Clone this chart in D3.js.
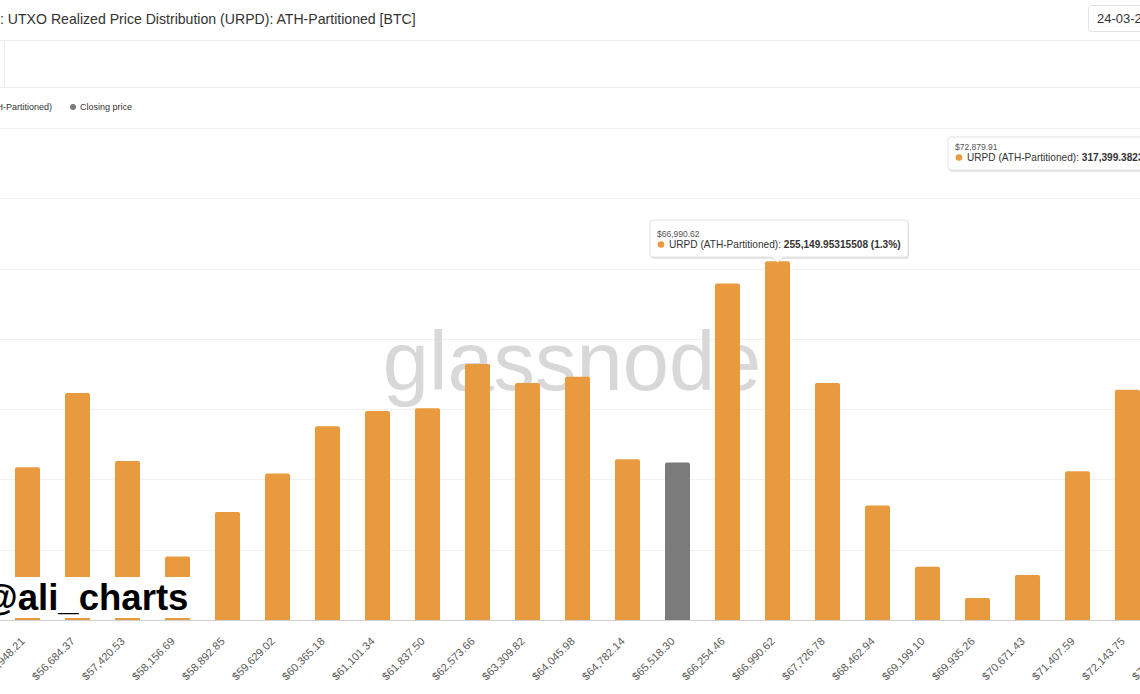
<!DOCTYPE html>
<html><head><meta charset="utf-8">
<script src="https://cdn.jsdelivr.net/npm/d3@7"></script>
<style>
html,body{margin:0;padding:0;background:#fff;overflow:hidden}
svg{display:block;font-family:"Liberation Sans",Arial,Helvetica,sans-serif}
</style></head>
<body><svg id="c" width="1140" height="694"></svg>
<script>
const categories = ["$55,948.21","$56,684.37","$57,420.53","$58,156.69","$58,892.85","$59,629.02","$60,365.18","$61,101.34","$61,837.50","$62,573.66","$63,309.82","$64,045.98","$64,782.14","$65,518.30","$66,254.46","$66,990.62","$67,726.78","$68,462.94","$69,199.10","$69,935.26","$70,671.43","$71,407.59","$72,143.75","$72,879.91"];
const urpdValues = [108600,161400,113100,45200,76900,104300,137900,148600,150700,182100,168600,173100,114300,112100,239300,255149.95315508,168600,81400,37900,15700,32100,105900,163800,317399.3823];
const closingPriceCategory = "$65,518.30";
const yTicks = [50000,100000,150000,200000,250000,300000,350000];
const tooltips = [
  {cat:"$66,990.62", value:"255,149.95315508", pct:"1.3%"},
  {cat:"$72,879.91", value:"317,399.38230000", pct:"1.6%"}
];
const titleText = ": UTXO Realized Price Distribution (URPD): ATH-Partitioned [BTC]";
const dateText = "24-03-20";
const legendItems = ["URPD (ATH-Partitioned)","Closing price"];

const W=1140,H=694;
const svg=d3.select("#c");
const orange="#E99A3F", grey="#7B7B7B";

// header
svg.append("text").attr("x",0).attr("y",24).attr("font-size",14.1).attr("fill","#333").text(titleText);
svg.append("rect").attr("x",1088.5).attr("y",5.5).attr("width",70).attr("height",26).attr("rx",3)
  .attr("fill","#fff").attr("stroke","#e3e3e3");
svg.append("text").attr("x",1097).attr("y",23).attr("font-size",13).attr("fill","#333").text(dateText);
svg.append("line").attr("x1",0).attr("x2",W).attr("y1",40.5).attr("y2",40.5).attr("stroke","#eeeeee");
svg.append("line").attr("x1",0).attr("x2",W).attr("y1",87.5).attr("y2",87.5).attr("stroke","#eeeeee");
svg.append("line").attr("x1",4.5).attr("x2",4.5).attr("y1",41).attr("y2",87).attr("stroke","#eeeeee");

// legend
svg.append("text").attr("x",52).attr("y",110).attr("text-anchor","end").attr("font-size",9).attr("fill","#333").text(legendItems[0]);
svg.append("circle").attr("cx",73).attr("cy",107).attr("r",3).attr("fill",grey);
svg.append("text").attr("x",80).attr("y",110).attr("font-size",9).attr("fill","#333").text(legendItems[1]);

// scales
const x=d3.scaleBand().domain(categories).range([2.5,1202.5]).paddingInner(0.5).paddingOuter(0.25);
const y=d3.scaleLinear().domain([0,350000]).range([620,128]);

// gridlines
svg.append("g").selectAll("line").data(yTicks).join("line")
  .attr("x1",0).attr("x2",W).attr("y1",d=>Math.round(y(d))+0.5).attr("y2",d=>Math.round(y(d))+0.5)
  .attr("stroke","#f1f1f1");

// watermark
svg.append("text").attr("x",572).attr("y",390).attr("text-anchor","middle").attr("font-size",83)
  .attr("fill","#d8d8d8").text("glassnode");

// bars
const r=2;
function barPath(d,i){
  const x0=x(categories[i]), w=x.bandwidth(), y0=y(d), y1=y(0);
  return `M${x0},${y1}V${y0+r}Q${x0},${y0} ${x0+r},${y0}H${x0+w-r}Q${x0+w},${y0} ${x0+w},${y0+r}V${y1}Z`;
}
svg.append("g").selectAll("path").data(urpdValues).join("path")
  .attr("d",barPath)
  .attr("fill",(d,i)=>categories[i]===closingPriceCategory?grey:orange);

// axis
const xAxis=d3.axisBottom(x).tickSize(0).tickPadding(0);
const ax=svg.append("g").attr("transform","translate(0,620)").call(xAxis);
ax.select(".domain").attr("stroke","#d0d0d0").attr("d","M0,0.5H1140");
ax.selectAll(".tick text")
  .attr("font-family","Liberation Sans, Arial, sans-serif")
  .attr("font-size",11).attr("fill","#5a5a5a")
  .attr("text-anchor","end").attr("dy",0).attr("y",0)
  .attr("transform","translate(-2,22) rotate(-45)");

// watermark author
svg.append("rect").attr("x",0).attr("y",577).attr("width",196).attr("height",41).attr("fill","#fff");
svg.append("text").attr("x",-18).attr("y",610).attr("font-size",36.6).attr("font-weight","bold").attr("fill","#000").text("@ali_charts");

// tooltips
const tipG=svg.append("g");
const tipBoxes=[{x:650,y:220,w:258,h:37,l1:17,l2:28},{x:948,y:137,w:230,h:33,l1:13,l2:24}];
tooltips.forEach((t,k)=>{
  const b=tipBoxes[k];
  const cx=x(t.cat)+x.bandwidth()/2;
  const g=tipG.append("g");
  g.append("rect").attr("x",b.x+1).attr("y",b.y+2).attr("width",b.w).attr("height",b.h).attr("rx",3).attr("fill","rgba(0,0,0,0.10)");
  g.append("rect").attr("x",b.x).attr("y",b.y).attr("width",b.w).attr("height",b.h).attr("rx",3).attr("fill","#fff").attr("stroke","#e2e2e2");
  if(k===0){
    g.append("path").attr("d",`M${cx-6},${b.y+b.h-0.5}L${cx},${b.y+b.h+5}L${cx+6},${b.y+b.h-0.5}Z`).attr("fill","#fff");
    g.append("path").attr("d",`M${cx-6},${b.y+b.h}L${cx},${b.y+b.h+5}L${cx+6},${b.y+b.h}`).attr("fill","none").attr("stroke","#e2e2e2");
  }
  g.append("text").attr("x",b.x+7).attr("y",b.y+b.l1).attr("font-size",8.5).attr("fill","#555").text(t.cat);
  g.append("circle").attr("cx",b.x+11).attr("cy",b.y+b.l2-3.5).attr("r",3.3).attr("fill",orange);
  const tt=g.append("text").attr("x",b.x+19).attr("y",b.y+b.l2).attr("font-size",10.1).attr("fill","#333");
  tt.append("tspan").text("URPD (ATH-Partitioned): ");
  tt.append("tspan").attr("font-weight","bold").text(`${t.value} (${t.pct})`);
});
</script></body></html>
